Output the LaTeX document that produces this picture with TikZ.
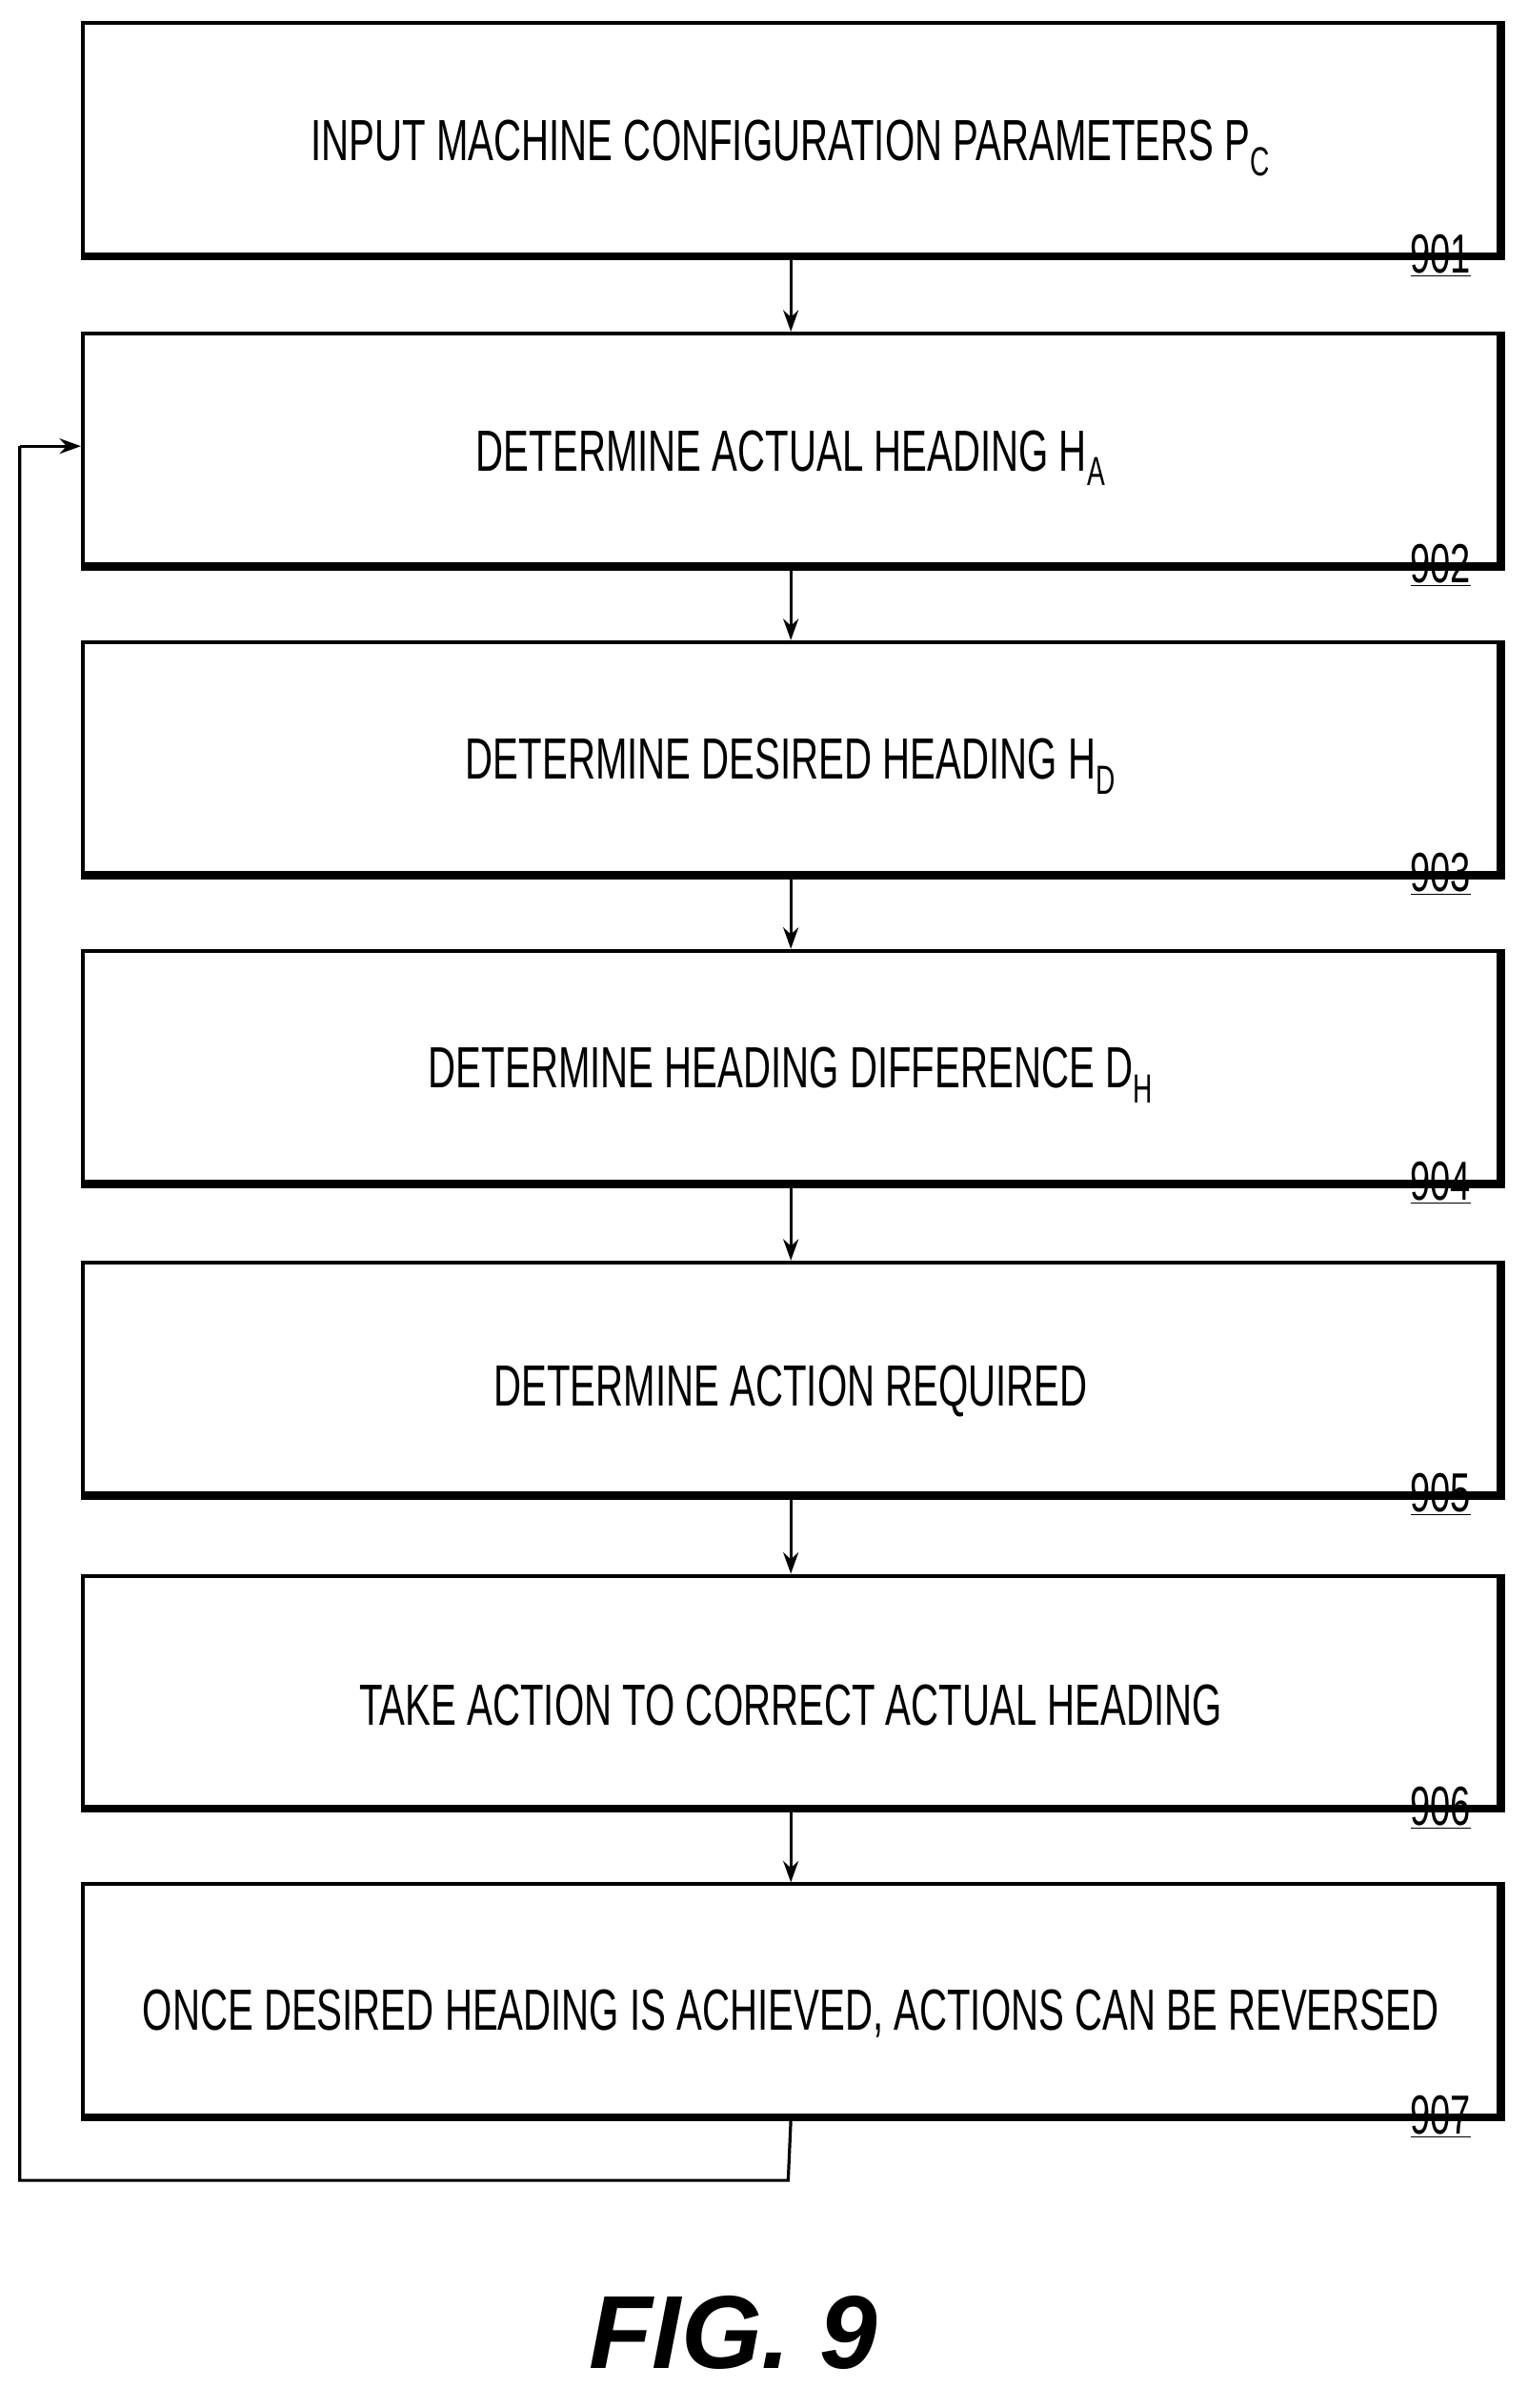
\documentclass[tikz,border=0pt]{standalone}
\usepackage{fontspec}
\setmainfont{Liberation Sans}[FakeStretch=0.66]
\newfontfamily\figfont{Liberation Sans}[FakeStretch=1.0]
\usetikzlibrary{arrows.meta}
\begin{document}
\begin{tikzpicture}[x=1pt,y=-1pt,
  box/.style={draw,line width=2.5pt,minimum width=927pt,minimum height=151pt,anchor=north west,inner sep=0pt},
  lbl/.style={font=\fontsize{38}{40}\selectfont},
  num/.style={font=\fontsize{36}{38}\selectfont,anchor=south east},
  arr/.style={line width=2pt,-{Stealth[length=14pt,width=10pt]}}]
\useasboundingbox (0,0) rectangle (1000,1576);
\foreach \n/\y in {1/14,2/217,3/419,4/621,5/825,6/1030,7/1232}{
  \node[box] (b\n) at (53,\y) {};
  \draw[line width=4pt] ([xshift=1pt]b\n.north east) -- ([xshift=1pt,yshift=-1pt]b\n.south east) -- ([yshift=-1pt]b\n.south west);
  \node[num] (n\n) at ([xshift=-16pt,yshift=-17pt]b\n.south east) {\underline{90\n}};
}
\node[lbl] (t1) at ([yshift=-6pt]b1.center) {INPUT MACHINE CONFIGURATION PARAMETERS P\textsubscript{C}};
\node[lbl] (t2) at ([yshift=-6pt]b2.center) {DETERMINE ACTUAL HEADING H\textsubscript{A}};
\node[lbl] (t3) at ([yshift=-6pt]b3.center) {DETERMINE DESIRED HEADING H\textsubscript{D}};
\node[lbl] (t4) at ([yshift=-6pt]b4.center) {DETERMINE HEADING DIFFERENCE D\textsubscript{H}};
\node[lbl] (t5) at ([yshift=-9pt]b5.center) {DETERMINE ACTION REQUIRED};
\node[lbl] (t6) at ([yshift=-9pt]b6.center) {TAKE ACTION TO CORRECT ACTUAL HEADING};
\node[lbl] (t7) at ([yshift=-9pt]b7.center) {ONCE DESIRED HEADING IS ACHIEVED, ACTIONS CAN BE REVERSED};
\foreach \a/\b in {1/2,2/3,3/4,4/5,5/6,6/7}{
  \draw[arr] ([yshift=-2pt]b\a.south) -- (b\b.north);
}
\coordinate (c1) at (516,1427);
\coordinate (c2) at (13,1427);
\coordinate (c3) at (13,292);
\draw[line width=2pt] ([yshift=-2pt]b7.south) -- (c1) -- (c2) -- (c3);
\draw[arr] (c3) -- (b2.west |- c3);
\node[font=\figfont\fontsize{68}{70}\selectfont\bfseries\itshape] (fig) at (480,1527) {FIG. 9};
\end{tikzpicture}
\end{document}
